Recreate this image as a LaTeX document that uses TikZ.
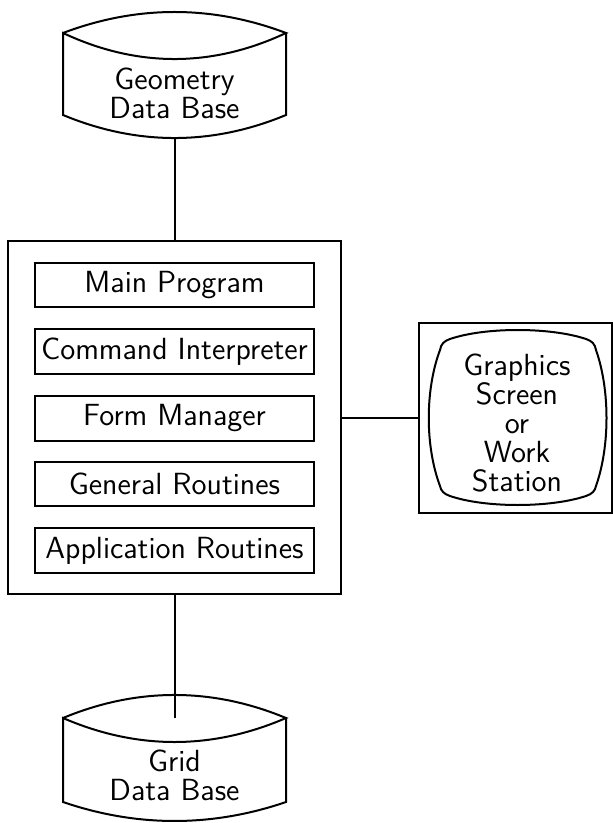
\documentclass[tikz,border=0pt]{standalone}
\usepackage{fontspec}
\usepackage{tikz}

\begin{document}
\begin{tikzpicture}[x=0.5pt,y=-0.5pt,font=\sffamily\fontsize{15.3}{14.5}\selectfont\addfontfeatures{FakeBold=0.4}]
  \tikzstyle{box} = [draw, line width=1pt, minimum width=139.5pt, minimum height=22.25pt, inner sep=0pt]
  \tikzstyle{frame} = [draw, line width=1pt, inner sep=0pt]
  \tikzstyle{txt} = [align=center, inner sep=0pt]
  \tikzstyle{e} = [line width=1pt];
  \useasboundingbox (0,0) rectangle (613,823);

  % the program with its parts
  \node[frame, minimum width=166.5pt, minimum height=176.5pt](prog) at (174.5,417.5){};
  \node[box](main) at (174.5,285){Main Program};
  \node[box](cmd) at (174.5,351.5){Command Interpreter};
  \node[box](form) at (174.5,418.5){Form Manager};
  \node[box](gen) at (174.5,484){General Routines};
  \node[box](appl) at (174.5,550.5){Application Routines};

  % geometry data base
  \draw[e] (63,33) .. controls (137,5) and (212,5) .. (286,33)
    .. controls (212,67.7) and (137,67.7) .. (63,33) -- (63,115)
    .. controls (137,145.7) and (212,145.7) .. (286,115) -- (286,33);
  \coordinate (geobot) at (174.5,138);
  \node[txt](geo) at (174.5,93){Geometry\\Data Base};

  % grid data base
  \draw[e] (63,718) .. controls (137,687.3) and (212,687.3) .. (286,718)
    .. controls (212,750) and (137,750) .. (63,718) -- (63,802)
    .. controls (137,827.3) and (212,827.3) .. (286,802) -- (286,718);
  \coordinate (gridtop) at (174.5,718);
  \node[txt](grid) at (174.5,775){Grid\\Data Base};

  % screen
  \node[frame, minimum width=96.5pt, minimum height=95pt](screen) at (515.5,417.5){};
  \draw[e] (450,339) .. controls (485,327) and (550,327) .. (586,339)
    .. controls (592,341) and (595,344) .. (596,350)
    .. controls (610,390) and (610,446) .. (596,486)
    .. controls (595,491) and (592,494) .. (586,496)
    .. controls (550,508) and (485,508) .. (450,496)
    .. controls (444,494) and (441,491) .. (440,486)
    .. controls (425,446) and (425,390) .. (440,350)
    .. controls (441,344) and (444,341) .. (450,339) -- cycle;
  \node[txt](work) at (517,423){Graphics\\Screen\\or\\Work\\Station};

  \draw[e](geobot)--(prog);
  \draw[e](prog)--(gridtop);
  \draw[e](prog.east)--(screen.west);
\end{tikzpicture}
\end{document}
